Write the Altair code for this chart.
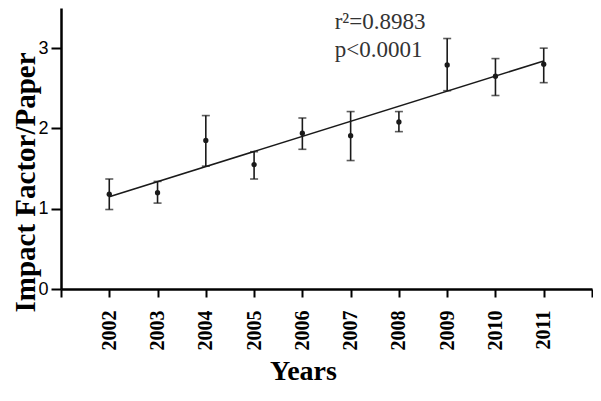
import altair as alt
import pandas as pd

years = list(range(2002, 2012))
means = [1.18, 1.20, 1.85, 1.55, 1.94, 1.91, 2.08, 2.79, 2.65, 2.80]
upper = [1.37, 1.34, 2.16, 1.71, 2.13, 2.21, 2.21, 3.12, 2.87, 3.00]
lower = [0.99, 1.07, 1.53, 1.37, 1.74, 1.60, 1.96, 2.47, 2.41, 2.57]

ann_text = ["r²=0.8983", "p<0.0001"]
ann_x = [2006.67, 2006.67]
ann_y = [3.24, 2.89]

df = pd.DataFrame({"year": years, "mean": means, "lo": lower, "hi": upper})
ann = pd.DataFrame({"ax": ann_x, "ay": ann_y, "label": ann_text})

xscale = alt.Scale(domain=[2001, 2012], nice=False, zero=False)
yscale = alt.Scale(domain=[0, 3.5], nice=False)

xaxis = alt.Axis(
    values=list(range(2001, 2013)),
    format="d",
    labelExpr="(datum.value < 2002 || datum.value > 2011) ? '' : datum.label",
    labelAngle=270, labelAlign="right", labelBaseline="middle",
    labelFont="Liberation Serif", labelFontWeight="bold", labelFontSize=20,
    labelPadding=13, tickSize=8, tickWidth=2,
    titleFont="Liberation Serif", titleFontWeight="bold", titleFontSize=28,
    titleX=242, titleY=90, titleBaseline="alphabetic", titleAlign="center",
)
yaxis = alt.Axis(
    values=[0, 1, 2, 3],
    labelFont="Liberation Sans", labelFontSize=18, labelPadding=3,
    tickSize=10, tickWidth=2,
    titleFont="Liberation Serif", titleFontWeight="bold", titleFontSize=29,
    titleAngle=270, titleX=-36, titleY=174, titleAlign="center",
    titleBaseline="middle",
)

def X(field):
    return alt.X(f"{field}:Q", scale=xscale, axis=xaxis, title="Years")

def Y(field):
    return alt.Y(f"{field}:Q", scale=yscale, axis=yaxis, title="Impact Factor/Paper")

color = "#1a1a1a"
base = alt.Chart(df)

bars = base.mark_rule(color=color, strokeWidth=1.6).encode(x=X("year"), y=Y("lo"), y2="hi:Q")
cap_hi = base.mark_tick(color=color, orient="horizontal", size=8, thickness=1.6).encode(x=X("year"), y=Y("hi"))
cap_lo = base.mark_tick(color=color, orient="horizontal", size=8, thickness=1.6).encode(x=X("year"), y=Y("lo"))
pts = base.mark_circle(color=color, size=28, opacity=1).encode(x=X("year"), y=Y("mean"))
reg = base.transform_regression("year", "mean").mark_line(color=color, strokeWidth=1.6).encode(x=X("year"), y=Y("mean"))
txt = alt.Chart(ann).mark_text(
    font="Liberation Serif", fontSize=23, align="left", baseline="alphabetic", color="#333333"
).encode(x=X("ax"), y=Y("ay"), text="label:N")

chart = alt.layer(reg, bars, cap_hi, cap_lo, pts, txt).properties(
    width=531, height=281,
    autosize=alt.AutoSizeParams(type="none"),
    padding={"left": 53, "top": 0, "right": 1, "bottom": 100},
).configure_view(stroke=None).configure_axis(
    grid=False, domainColor="black", tickColor="black", domainWidth=2.5,
    labelColor="black", titleColor="black",
)

chart.save("out.html", embed_options={"renderer": "svg", "actions": False})
